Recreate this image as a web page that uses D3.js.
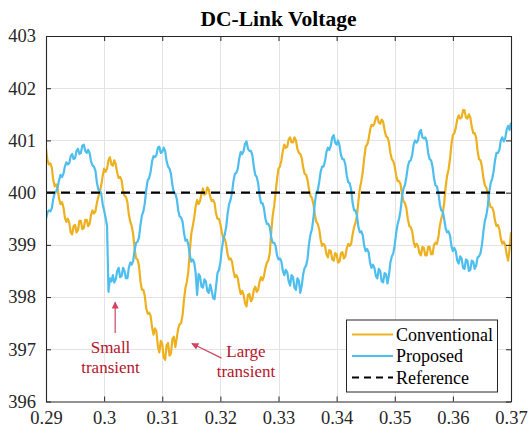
<!DOCTYPE html>
<html>
<head>
<meta charset="utf-8">
<script src="https://cdn.jsdelivr.net/npm/d3@7/dist/d3.min.js"></script>
<style>
  html, body { margin: 0; padding: 0; background: #fff; }
</style>
</head>
<body>
<div id="chart"></div>
<script>
// Sampling: one value every 0.25 ms from 0.29 s to 0.37 s
const tStart = 0.29;
const tStep = 0.00025;

// DC-link voltage, conventional controller (V)
const conventional = [
  400.84, 400.62, 400.54, 400.56, 400.48, 400.24, 400.12, 400.16, 400.08, 399.88,
  399.78, 399.82, 399.72, 399.52, 399.44, 399.5, 399.42, 399.24, 399.2, 399.36,
  399.38, 399.24, 399.28, 399.46, 399.46, 399.3, 399.32, 399.48, 399.48, 399.36,
  399.4, 399.58, 399.66, 399.6, 399.64, 399.8, 399.92, 400.0, 400.14, 400.32,
  400.46, 400.4, 400.46, 400.62, 400.68, 400.54, 400.52, 400.62, 400.54, 400.38,
  400.28, 400.3, 400.24, 400.04, 399.94, 399.92, 399.82, 399.58, 399.44, 399.36,
  399.2, 398.92, 398.74, 398.72, 398.6, 398.3, 398.14, 398.14, 398.02, 397.78,
  397.68, 397.7, 397.64, 397.42, 397.28, 397.4, 397.34, 397.06, 396.94, 397.16,
  397.1, 396.84, 396.8, 397.08, 397.12, 396.88, 396.92, 397.2, 397.24, 397.04,
  397.22, 397.4, 397.48, 397.5, 397.66, 397.96, 398.18, 398.3, 398.5, 398.9,
  399.22, 399.36, 399.52, 399.74, 399.86, 399.78, 399.84, 399.98, 400.08, 399.96,
  399.98, 400.1, 400.06, 399.92, 399.84, 399.86, 399.8, 399.6, 399.5, 399.5,
  399.4, 399.24, 399.12, 399.12, 399.0, 398.82, 398.72, 398.74, 398.68, 398.5,
  398.38, 398.42, 398.36, 398.18, 398.06, 398.12, 398.04, 397.88, 397.82, 398.04,
  398.06, 397.92, 397.96, 398.14, 398.2, 398.1, 398.14, 398.3, 398.38, 398.32,
  398.4, 398.56, 398.66, 398.7, 398.84, 399.24, 399.56, 399.74, 400.0, 400.26,
  400.46, 400.5, 400.62, 400.8, 400.92, 400.86, 400.88, 401.02, 401.06, 400.96,
  400.96, 401.06, 401.0, 400.84, 400.76, 400.74, 400.66, 400.48, 400.36, 400.34,
  400.24, 400.06, 399.94, 399.9, 399.78, 399.58, 399.44, 399.4, 399.3, 399.1,
  398.98, 399.02, 398.98, 398.82, 398.76, 398.9, 398.88, 398.72, 398.7, 398.84,
  398.82, 398.66, 398.68, 398.84, 398.86, 398.74, 398.78, 398.94, 399.02, 398.98,
  399.02, 399.2, 399.34, 399.42, 399.56, 399.84, 400.08, 400.22, 400.4, 400.66,
  400.88, 400.92, 401.02, 401.2, 401.3, 401.28, 401.32, 401.44, 401.46, 401.34,
  401.32, 401.4, 401.36, 401.2, 401.08, 401.06, 400.96, 400.76, 400.64, 400.6,
  400.5, 400.32, 400.22, 400.22, 400.16, 399.96, 399.84, 399.8, 399.7, 399.5,
  399.36, 399.34, 399.26, 399.06, 398.96, 399.02, 398.98, 398.84, 398.8, 398.96,
  398.94, 398.8, 398.8, 398.96, 398.96, 398.82, 398.82, 399.0, 399.04, 399.02,
  399.14, 399.36, 399.5, 399.6, 399.8, 400.1, 400.32, 400.44, 400.64, 400.92,
  401.1, 401.14, 401.24, 401.4, 401.48, 401.42, 401.44, 401.58, 401.58, 401.44,
  401.42, 401.5, 401.44, 401.26, 401.14, 401.14, 401.06, 400.8, 400.64, 400.62,
  400.5, 400.28, 400.14, 400.1, 400.0, 399.82, 399.72, 399.72, 399.64, 399.46,
  399.36, 399.38, 399.3, 399.12, 399.02, 399.06, 399.0, 398.82, 398.7, 398.92,
  399.24
];

// DC-link voltage, proposed controller (V)
const proposed = [
  399.5, 399.62, 399.66, 399.64, 399.7, 399.88, 400.0, 400.02, 400.1, 400.24,
  400.34, 400.3, 400.36, 400.5, 400.58, 400.54, 400.56, 400.7, 400.74, 400.64,
  400.66, 400.8, 400.84, 400.74, 400.76, 400.9, 400.92, 400.8, 400.76, 400.82,
  400.76, 400.6, 400.52, 400.5, 400.42, 400.2, 400.06, 400.04, 399.98, 399.78,
  399.66, 399.52, 399.36, 398.1, 398.36, 398.3, 398.42, 398.28, 398.34, 398.5,
  398.56, 398.38, 398.4, 398.56, 398.5, 398.36, 398.36, 398.56, 398.66, 398.62,
  398.7, 398.9, 399.04, 399.06, 399.14, 399.38, 399.56, 399.64, 399.8, 400.06,
  400.24, 400.28, 400.4, 400.6, 400.7, 400.68, 400.72, 400.86, 400.88, 400.76,
  400.78, 400.86, 400.8, 400.6, 400.5, 400.46, 400.36, 400.14, 400.0, 399.98,
  399.88, 399.66, 399.54, 399.52, 399.44, 399.22, 399.08, 399.1, 399.0, 398.8,
  398.68, 398.72, 398.66, 398.46, 398.04, 398.44, 398.4, 398.2, 398.18, 398.34,
  398.3, 398.12, 398.08, 398.24, 398.12, 397.98, 397.96, 398.2, 398.46, 398.52,
  398.66, 398.92, 399.1, 399.2, 399.34, 399.6, 399.78, 399.86, 400.0, 400.22,
  400.36, 400.38, 400.46, 400.66, 400.78, 400.74, 400.8, 400.94, 400.98, 400.84,
  400.8, 400.8, 400.72, 400.5, 400.34, 400.3, 400.18, 399.94, 399.8, 399.8,
  399.7, 399.5, 399.4, 399.4, 399.34, 399.14, 399.04, 399.04, 398.98, 398.8,
  398.72, 398.74, 398.68, 398.5, 398.42, 398.52, 398.48, 398.3, 398.22, 398.42,
  398.38, 398.18, 398.14, 398.36, 398.32, 398.08, 398.22, 398.44, 398.56, 398.6,
  398.74, 399.02, 399.2, 399.3, 399.5, 399.8, 400.0, 400.04, 400.2, 400.4,
  400.5, 400.5, 400.6, 400.78, 400.86, 400.82, 400.9, 401.06, 401.1, 400.96,
  400.92, 401.0, 400.9, 400.72, 400.64, 400.64, 400.54, 400.32, 400.2, 400.18,
  400.06, 399.8, 399.66, 399.66, 399.56, 399.34, 399.24, 399.26, 399.18, 398.98,
  398.88, 398.92, 398.86, 398.66, 398.56, 398.62, 398.56, 398.4, 398.36, 398.54,
  398.5, 398.3, 398.28, 398.46, 398.44, 398.26, 398.42, 398.66, 398.78, 398.84,
  399.0, 399.24, 399.4, 399.5, 399.66, 399.92, 400.08, 400.14, 400.3, 400.5,
  400.6, 400.62, 400.72, 400.92, 401.0, 400.96, 401.0, 401.16, 401.2, 401.06,
  401.04, 401.06, 400.98, 400.76, 400.64, 400.62, 400.5, 400.28, 400.14, 400.12,
  400.0, 399.78, 399.66, 399.64, 399.5, 399.32, 399.24, 399.26, 399.18, 398.98,
  398.88, 398.94, 398.88, 398.7, 398.64, 398.78, 398.74, 398.56, 398.54, 398.72,
  398.7, 398.5, 398.52, 398.7, 398.68, 398.54, 398.6, 398.76, 398.78, 398.84,
  399.0, 399.26, 399.46, 399.56, 399.74, 400.0, 400.18, 400.26, 400.4, 400.62,
  400.76, 400.76, 400.82, 401.0, 401.06, 400.98, 401.04, 401.2, 401.28, 401.2,
  401.34
];

// Voltage reference (V)
const referenceLevel = [400, 400];
const referenceTimes = [0.29, 0.37];

// Axis ticks
const xTicks = [0.29, 0.3, 0.31, 0.32, 0.33, 0.34, 0.35, 0.36, 0.37];
const xTickLabels = ["0.29", "0.3", "0.31", "0.32", "0.33", "0.34", "0.35", "0.36", "0.37"];
const yTicks = [396, 397, 398, 399, 400, 401, 402, 403];

const seriesNames = ["Conventional", "Proposed", "Reference"];
const colors = { conv: "#EDB120", prop: "#4DBEEE", ref: "#000000", annot: "#B5142B", arrow: "#D3435E" };

// Pick the first installed Times-like face
function pickSerif() {
  const candidates = ["Liberation Serif", "Tinos", "Times New Roman", "Times", "Nimbus Roman",
    "Nimbus Roman No9 L", "FreeSerif", "DejaVu Serif", "Noto Serif", "Bitstream Vera Serif"];
  const ctx = document.createElement("canvas").getContext("2d");
  const probe = "DC-Link Voltage 0.123 Wwmli";
  const widthWith = f => { ctx.font = f; return ctx.measureText(probe).width; };
  const bases = ["monospace", "sans-serif"];
  for (const c of candidates) {
    const found = bases.some(b => widthWith(`40px "${c}", ${b}`) !== widthWith(`40px ${b}`));
    if (found) return `"${c}", serif`;
  }
  return "serif";
}
const serif = pickSerif();

const W = 529, H = 433;
const margin = { left: 46, right: 18, top: 36, bottom: 31.5 };
const pw = W - margin.left - margin.right;
const ph = H - margin.top - margin.bottom;

const svg = d3.select("#chart").append("svg")
  .attr("width", W).attr("height", H)
  .attr("viewBox", `0 0 ${W} ${H}`)
  .style("font-family", serif);

const x = d3.scaleLinear().domain([0.29, 0.37]).range([margin.left, margin.left + pw]);
const y = d3.scaleLinear().domain([396, 403]).range([margin.top + ph, margin.top]);

// Grid
const grid = svg.append("g").attr("stroke", "#e3e3e3").attr("stroke-width", 1);
grid.selectAll("line.vx").data(xTicks.slice(1, -1)).join("line")
  .attr("x1", d => Math.round(x(d)) + 0.5).attr("x2", d => Math.round(x(d)) + 0.5)
  .attr("y1", margin.top).attr("y2", margin.top + ph);
grid.selectAll("line.hy").data(yTicks.slice(1, -1)).join("line")
  .attr("y1", d => Math.round(y(d)) + 0.5).attr("y2", d => Math.round(y(d)) + 0.5)
  .attr("x1", margin.left).attr("x2", margin.left + pw);

// Clip
svg.append("clipPath").attr("id", "plotClip").append("rect")
  .attr("x", margin.left).attr("y", margin.top).attr("width", pw).attr("height", ph);

const plot = svg.append("g").attr("clip-path", "url(#plotClip)");

const timeOf = i => tStart + i * tStep;
const line = d3.line().x((d, i) => x(timeOf(i))).y(d => y(d));

plot.append("path").datum(conventional)
  .attr("fill", "none").attr("stroke", colors.conv).attr("stroke-width", 2.2)
  .attr("stroke-linejoin", "round").attr("d", line);

plot.append("path").datum(proposed)
  .attr("fill", "none").attr("stroke", colors.prop).attr("stroke-width", 2.2)
  .attr("stroke-linejoin", "round").attr("d", line);

plot.append("path").datum(referenceLevel)
  .attr("fill", "none").attr("stroke", colors.ref).attr("stroke-width", 2.4)
  .attr("stroke-dasharray", "9,6")
  .attr("d", d3.line().x((d, i) => x(referenceTimes[i])).y(d => y(d)));

// Axes (box with inward ticks on all sides)
const tickLen = 5;
const axisColor = "#262626";
const fontSize = 18.5;

const bottomAxis = d3.axisBottom(x).tickValues(xTicks).tickSizeInner(-tickLen).tickSizeOuter(0)
  .tickPadding(9).tickFormat((d, i) => xTickLabels[i]);
const topAxis = d3.axisTop(x).tickValues(xTicks).tickSizeInner(-tickLen).tickSizeOuter(0).tickFormat("");
const leftAxis = d3.axisLeft(y).tickValues(yTicks).tickSizeInner(-tickLen).tickSizeOuter(0)
  .tickPadding(10).tickFormat(d3.format("d"));
const rightAxis = d3.axisRight(y).tickValues(yTicks).tickSizeInner(-tickLen).tickSizeOuter(0).tickFormat("");

function styleAxis(g) {
  g.attr("font-family", serif).attr("font-size", fontSize);
  g.selectAll("path.domain").attr("stroke", axisColor).attr("stroke-width", 1.1);
  g.selectAll(".tick line").attr("stroke", axisColor).attr("stroke-width", 1);
  g.selectAll(".tick text").attr("fill", "#262626");
}

svg.append("g").attr("transform", `translate(0,${margin.top + ph})`).call(bottomAxis).call(styleAxis);
svg.append("g").attr("transform", `translate(0,${margin.top})`).call(topAxis).call(styleAxis);
svg.append("g").attr("transform", `translate(${margin.left},0)`).call(leftAxis).call(styleAxis);
svg.append("g").attr("transform", `translate(${margin.left + pw},0)`).call(rightAxis).call(styleAxis);

// Title
svg.append("text")
  .attr("x", margin.left + pw / 2).attr("y", 26)
  .attr("text-anchor", "middle")
  .attr("font-family", serif)
  .attr("font-weight", "bold").attr("font-size", 21.5)
  .attr("fill", "#000")
  .text("DC-Link Voltage");

// Annotations
const defs = svg.append("defs");
defs.append("marker").attr("id", "arrowHead")
  .attr("viewBox", "0 0 10 10").attr("refX", 9).attr("refY", 5)
  .attr("markerWidth", 8).attr("markerHeight", 7).attr("markerUnits", "userSpaceOnUse")
  .attr("orient", "auto")
  .append("path").attr("d", "M0,0 L10,5 L0,10 Z").attr("fill", colors.arrow);

const ann = svg.append("g");
function arrow(t0, v0, t1, v1) {
  ann.append("line")
    .attr("x1", x(t0)).attr("y1", y(v0)).attr("x2", x(t1)).attr("y2", y(v1))
    .attr("stroke", colors.arrow).attr("stroke-width", 1.2)
    .attr("marker-end", "url(#arrowHead)");
}
function label(t, v, lines) {
  const txt = ann.append("text")
    .attr("x", x(t)).attr("y", y(v))
    .attr("text-anchor", "middle")
    .attr("fill", colors.annot)
    .attr("font-family", serif)
    .attr("font-size", 17);
  lines.forEach((s, i) => txt.append("tspan").attr("x", x(t)).attr("dy", i === 0 ? 0 : 20.5).text(s));
}

arrow(0.3019, 397.31, 0.3019, 397.9);
label(0.3011, 396.93, ["Small", "transient"]);
arrow(0.3202, 396.83, 0.3151, 397.11);
label(0.3244, 396.86, ["Large", "transient"]);

// Legend
const lg = svg.append("g");
const lx = 346, ly = 319.5, lw = 151, lh = 72;
lg.append("rect").attr("x", lx + 0.5).attr("y", ly + 0.5).attr("width", lw).attr("height", lh)
  .attr("fill", "#fff").attr("stroke", "#262626").attr("stroke-width", 1);

const legendItems = [
  { name: seriesNames[0], color: colors.conv, dash: null },
  { name: seriesNames[1], color: colors.prop, dash: null },
  { name: seriesNames[2], color: colors.ref, dash: "7,5" }
];
legendItems.forEach((it, i) => {
  const cy = ly + 15 + i * 21.5;
  lg.append("line").attr("x1", lx + 6).attr("x2", lx + 47).attr("y1", cy).attr("y2", cy)
    .attr("stroke", it.color).attr("stroke-width", 2.2)
    .attr("stroke-dasharray", it.dash);
  lg.append("text").attr("x", lx + 50).attr("y", cy + 6)
    .attr("font-family", serif)
    .attr("font-size", 18).attr("fill", "#000").text(it.name);
});
</script>
</body>
</html>
